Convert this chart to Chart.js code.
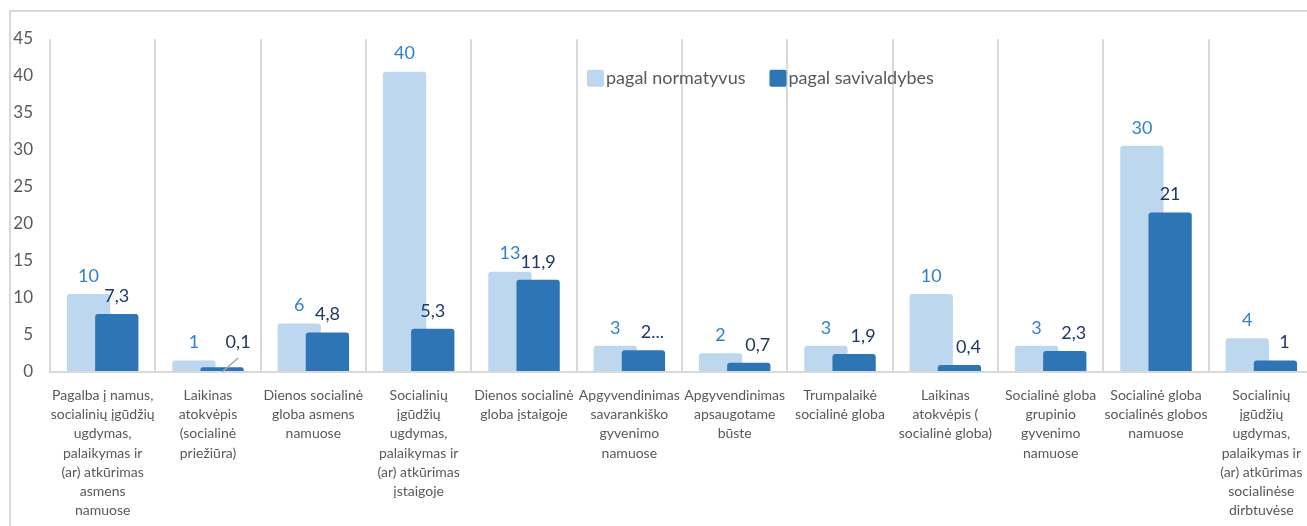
<!DOCTYPE html>
<html><head><meta charset="utf-8">
<script src="https://cdn.jsdelivr.net/npm/chart.js@4/dist/chart.umd.min.js"></script>
<style>
html,body{margin:0;padding:0;background:#fff;overflow:hidden;width:1307px;height:526px;}
#frame{position:absolute;left:9px;top:10px;width:1330px;height:540px;border-left:2px solid #d9d9d9;border-top:2px solid #d9d9d9;}
#c{position:absolute;left:0;top:0;}
</style></head><body>
<div id="frame"><canvas id="c" width="1320" height="514"></canvas></div>
<script>
const categories = [
  ["Pagalba į namus,", "socialinių įgūdžių", "ugdymas,", "palaikymas ir", "(ar) atkūrimas", "asmens", "namuose"],
  ["Laikinas", "atokvėpis", "(socialinė", "priežiūra)"],
  ["Dienos socialinė", "globa asmens", "namuose"],
  ["Socialinių", "įgūdžių", "ugdymas,", "palaikymas ir", "(ar) atkūrimas", "įstaigoje"],
  ["Dienos socialinė", "globa įstaigoje"],
  ["Apgyvendinimas", "savarankiško", "gyvenimo", "namuose"],
  ["Apgyvendinimas", "apsaugotame", "būste"],
  ["Trumpalaikė", "socialinė globa"],
  ["Laikinas", "atokvėpis (", "socialinė globa)"],
  ["Socialinė globa", "grupinio", "gyvenimo", "namuose"],
  ["Socialinė globa", "socialinės globos", "namuose"],
  ["Socialinių", "įgūdžių", "ugdymas,", "palaikymas ir", "(ar) atkūrimas", "socialinėse", "dirbtuvėse"]
];
const seriesNames = ["pagal normatyvus", "pagal savivaldybes"];
const normatyvus = [10, 1, 6, 40, 13, 3, 2, 3, 10, 3, 30, 4];
const savivaldybes = [7.3, 0.1, 4.8, 5.3, 11.9, 2.4, 0.7, 1.9, 0.4, 2.3, 21, 1];
const normatyvusLabels = ["10", "1", "6", "40", "13", "3", "2", "3", "10", "3", "30", "4"];
const savivaldybesLabels = ["7,3", "0,1", "4,8", "5,3", "11,9", "2...", "0,7", "1,9", "0,4", "2,3", "21", "1"];
const yTicks = [0, 5, 10, 15, 20, 25, 30, 35, 40, 45];

const LIGHT = '#BDD7EE', DARK = '#2E75B6';
const LIGHT_TXT = '#2F82CE', DARK_TXT = '#203864';
const Y_MIN = -0.54, Y_MAX = 44.38;

const orderPlugin = {
  id: 'drawOrder',
  beforeDatasetsDraw(chart) {
    [0, 1].forEach(i => chart.getDatasetMeta(i).controller.draw());
    return false;
  }
};

const labelPlugin = {
  id: 'labels',
  afterDraw(chart) {
    const ctx = chart.ctx;
    ctx.save();
    ctx.font = '18px Lato';
    ctx.textAlign = 'center';
    ctx.textBaseline = 'middle';
    const m0 = chart.getDatasetMeta(0), m1 = chart.getDatasetMeta(1);
    m0.data.forEach((el, i) => {
      ctx.fillStyle = LIGHT_TXT;
      ctx.fillText(normatyvusLabels[i], el.x, el.y - 18);
    });
    m1.data.forEach((el, i) => {
      const v = savivaldybes[i];
      ctx.fillStyle = DARK_TXT;
      if (v < 0.2) {
        ctx.strokeStyle = '#A6A6A6';
        ctx.lineWidth = 1.5;
        ctx.beginPath();
        ctx.moveTo(el.x, el.base);
        ctx.lineTo(el.x + 16, el.base - 14);
        ctx.stroke();
        ctx.fillText(savivaldybesLabels[i], el.x + 16, el.base - 30);
      } else {
        const dx = v < 3 ? 9 : 0;
        ctx.fillText(savivaldybesLabels[i], el.x + dx, el.y - 18);
      }
    });
    // legend
    const top = chart.chartArea.top;
    let x = chart.chartArea.left + 537;
    const cy = top + 39;
    ctx.font = '18px Lato';
    ctx.textAlign = 'left';
    [LIGHT, DARK].forEach((col, i) => {
      ctx.fillStyle = col;
      ctx.beginPath();
      ctx.roundRect(x, cy - 8.5, 17, 17, 2);
      ctx.fill();
      ctx.fillStyle = '#595959';
      ctx.fillText(seriesNames[i], x + 19, cy);
      x += 19 + ctx.measureText(seriesNames[i]).width + 24;
    });
    ctx.restore();
  }
};

new Chart(document.getElementById('c'), {
  type: 'bar',
  data: {
    labels: categories,
    datasets: [
      { label: seriesNames[0], data: normatyvus, backgroundColor: LIGHT, base: Y_MIN },
      { label: seriesNames[1], data: savivaldybes, backgroundColor: DARK, base: Y_MIN }
    ]
  },
  options: {
    responsive: false,
    animation: false,
    devicePixelRatio: 1,
    categoryPercentage: 0.5356,
    barPercentage: 1.535,
    borderRadius: 3,
    layout: { padding: { left: 0, top: 25, right: 17, bottom: 0 } },
    plugins: { legend: { display: false }, tooltip: { enabled: false } },
    scales: {
      x: {
        type: 'category',
        offset: true,
        grid: { display: true, offset: true, color: '#D9D9D9', lineWidth: 2, drawTicks: false },
        border: { display: true, color: '#D9D9D9', width: 2, z: 1 },
        ticks: { color: '#595959', font: { family: 'Lato', size: 14, lineHeight: 1.37 }, padding: 14, maxRotation: 0, minRotation: 0, autoSkip: false },
        afterFit(s) { s.height = 154; }
      },
      y: {
        min: Y_MIN,
        max: Y_MAX,
        grid: { display: false, drawTicks: false },
        border: { display: false },
        ticks: { color: '#595959', font: { family: 'Lato', size: 17 }, padding: 17, labelOffset: 4, autoSkip: false },
        afterBuildTicks(s) { s.ticks = yTicks.map(v => ({ value: v })); },
        afterFit(s) { s.width = 39; }
      }
    }
  },
  plugins: [orderPlugin, labelPlugin]
});
</script>
</body></html>
